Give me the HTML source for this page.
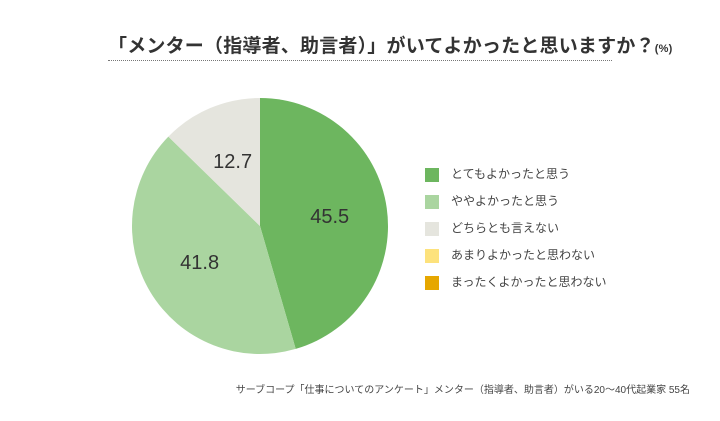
<!DOCTYPE html>
<html><head><meta charset="utf-8"><style>
body{margin:0;width:720px;height:421px;background:#fff;font-family:"Liberation Sans","Noto Sans CJK JP",sans-serif;color:#333;overflow:hidden;position:relative}
.t{position:absolute;left:108px;top:31px;font-size:19px;font-weight:bold;color:#333;white-space:nowrap;letter-spacing:0.2px}
.t small{font-size:11px}
.line{position:absolute;left:108px;top:60px;width:504px;border-top:1.5px dotted #777}
.lg{position:absolute;left:425px;font-size:12px;color:#444;white-space:nowrap}
.sw{display:inline-block;width:14px;height:14px;vertical-align:middle;margin-right:12px}
.f{position:absolute;right:30px;top:381px;font-size:10px;color:#444;white-space:nowrap}
</style></head><body>
<div class="t">「メンター（指導者、助言者）」がいてよかったと思いますか？<small>(%)</small></div>
<div class="line"></div>
<svg id="pie" width="720" height="421" style="position:absolute;left:0;top:0"></svg>
<div id="legend"></div>
<div class="f">サーブコープ「仕事についてのアンケート」メンター（指導者、助言者）がいる20〜40代起業家 55名</div>
<script>
const categories=["とてもよかったと思う","ややよかったと思う","どちらとも言えない","あまりよかったと思わない","まったくよかったと思わない"];
const values=[45.5,41.8,12.7,0,0];
const colors=["#6db65f","#aad5a0","#e5e5de","#fde27c","#e6a700"];
const svg=document.getElementById('pie');const NS="http://www.w3.org/2000/svg";
const cx=260,cy=226,r=128;const total=values.reduce((a,b)=>a+b,0);
let a0=0;
values.forEach((v,i)=>{if(v<=0)return;const a1=a0+v/total*2*Math.PI;
const p=(a)=>[cx+r*Math.sin(a),cy-r*Math.cos(a)];const [x0,y0]=p(a0),[x1,y1]=p(a1);
const path=document.createElementNS(NS,'path');
path.setAttribute('d',`M${cx},${cy}L${x0},${y0}A${r},${r} 0 ${a1-a0>Math.PI?1:0} 1 ${x1},${y1}Z`);
path.setAttribute('fill',colors[i]);


svg.appendChild(path);
const am=(a0+a1)/2,lr=r*0.55;const t=document.createElementNS(NS,'text');
t.setAttribute('x',cx+lr*Math.sin(am));t.setAttribute('y',cy-lr*Math.cos(am)+7);
t.setAttribute('text-anchor','middle');t.setAttribute('font-size','20');t.setAttribute('fill','#333');
t.setAttribute('font-family','Liberation Sans, sans-serif');t.textContent=v.toFixed(1);


svg.appendChild(t);a0=a1;});
const lg=document.getElementById('legend');
categories.forEach((c,i)=>{const d=document.createElement('div');d.className='lg';d.style.top=(166+i*27-1)+'px';
d.innerHTML=`<span class="sw" style="background:${colors[i]}"></span>${c}`;


lg.appendChild(d);});
</script>
</body></html>
